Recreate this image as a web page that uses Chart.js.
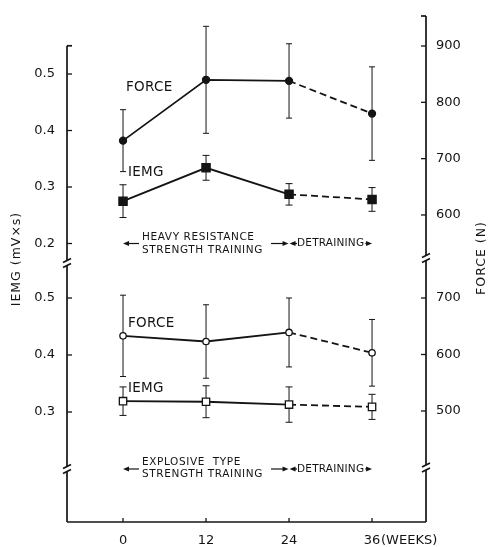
<!DOCTYPE html>
<html>
<head>
<meta charset="utf-8">
<title>IEMG and force during training and detraining</title>
<script src="https://cdn.jsdelivr.net/npm/chart.js@4.4.1/dist/chart.umd.min.js"></script>
<style>
  html, body { margin: 0; padding: 0; background: #fff; }
  canvas { display: block; }
</style>
</head>
<body>
<canvas id="chart" width="488" height="547"></canvas>
<script>
const weeks = [0, 12, 24, 36];

// heavy resistance strength training (upper panel)
const heavyForce = [732, 840, 838, 780];
const heavyForceErr = [55, 95, 66, 83];
const heavyIemg = [0.275, 0.334, 0.287, 0.278];
const heavyIemgErr = [0.029, 0.022, 0.019, 0.021];

// explosive type strength training (lower panel)
const explForce = [633, 623, 639, 603];
const explForceErr = [72, 65, 61, 59];
const explIemg = [0.319, 0.318, 0.313, 0.309];
const explIemgErr = [0.025, 0.028, 0.031, 0.022];

const iemgTicksTop = [0.2, 0.3, 0.4, 0.5];
const iemgTicksBot = [0.3, 0.4, 0.5];
const forceTicksTop = [600, 700, 800, 900];
const forceTicksBot = [500, 600, 700];

const INK = "#141414";
const FONT = "'DejaVu Sans', sans-serif";

const toPoints = vals => weeks.map((w, i) => ({ x: w, y: vals[i] }));

// training part solid, detraining part dashed
const dashAfterTraining = { borderDash: ctx => (ctx.p0DataIndex >= 2 ? [7, 4] : undefined) };

function series(vals, errs, axis, style, filled, radius, capHalf) {
  return {
    data: toPoints(vals),
    errors: errs,
    capHalf,
    yAxisID: axis,
    borderColor: INK,
    borderWidth: 1.8,
    pointStyle: style,
    pointRadius: radius,
    pointBorderWidth: 1.3,
    pointBackgroundColor: filled ? INK : "#fff",
    pointBorderColor: INK,
    segment: dashAfterTraining,
    tension: 0
  };
}

function yScale(stack, position, min, max, ticks, stackWeight, weight, width) {
  return {
    type: "linear",
    position,
    stack,
    stackWeight,
    weight,
    min,
    max,
    grid: { display: false, drawTicks: false },
    border: { display: false },
    ticks: { color: INK, padding: position === "left" ? 12 : 10, font: { family: FONT, size: 13 } },
    afterBuildTicks: s => { s.ticks = ticks.map(v => ({ value: v })); },
    afterFit: s => {
      s.width = width;
      s.paddingTop = 0; // keep the plot area right up to the top padding
      s.paddingBottom = 0;
    }
  };
}

function line(ctx, x1, y1, x2, y2) {
  ctx.beginPath();
  ctx.moveTo(x1, y1);
  ctx.lineTo(x2, y2);
  ctx.stroke();
}

function head(ctx, tipX, y, dir) {
  ctx.beginPath();
  ctx.moveTo(tipX, y);
  ctx.lineTo(tipX - dir * 6, y - 2.5);
  ctx.lineTo(tipX - dir * 6, y + 2.5);
  ctx.closePath();
  ctx.fill();
}

// vertical axis with "//" breaks
function brokenAxis(ctx, X, ys) {
  const gap = 2.5;
  for (let i = 0; i < ys.length - 1; i++) {
    const y1 = ys[i] + (i > 0 ? gap : 0);
    const y2 = ys[i + 1] - (i + 1 < ys.length - 1 ? gap : 0);
    line(ctx, X, y1, X, y2);
  }
  for (let i = 1; i < ys.length - 1; i++) {
    const yb = ys[i];
    line(ctx, X - 4, yb - 0.5, X + 4, yb - 4.5);
    line(ctx, X - 4, yb + 4.5, X + 4, yb + 0.5);
  }
}

const frame = {
  id: "frame",
  beforeDatasetsDraw(chart) {
    const { ctx, chartArea: a, scales: s } = chart;
    ctx.save();
    ctx.strokeStyle = INK;
    ctx.lineWidth = 1.7;

    const lTop = s.iemgTop.getPixelForValue(0.55);
    brokenAxis(ctx, a.left, [lTop, s.iemgTop.bottom, s.iemgBot.getPixelForValue(0.2), a.bottom]);
    brokenAxis(ctx, a.right, [a.top, s.forceTop.bottom, s.forceBot.getPixelForValue(400), a.bottom]);
    line(ctx, a.left, a.bottom, a.right, a.bottom);

    // caps and inward ticks
    line(ctx, a.left, lTop, a.left + 5, lTop);
    line(ctx, a.right - 5, a.top, a.right, a.top);
    ctx.lineWidth = 1.3;
    for (const id of ["iemgTop", "iemgBot"]) {
      s[id].ticks.forEach(t => {
        const y = s[id].getPixelForValue(t.value);
        line(ctx, a.left, y, a.left + 5, y);
      });
    }
    for (const id of ["forceTop", "forceBot"]) {
      s[id].ticks.forEach(t => {
        const y = s[id].getPixelForValue(t.value);
        line(ctx, a.right - 5, y, a.right, y);
      });
    }
    s.x.ticks.forEach(t => {
      const x = s.x.getPixelForValue(t.value);
      line(ctx, x, a.bottom, x, a.bottom - 4);
    });
    ctx.restore();
  }
};

const errorBars = {
  id: "errorBars",
  beforeDatasetsDraw(chart) {
    const { ctx } = chart;
    ctx.save();
    ctx.strokeStyle = INK;
    ctx.lineWidth = 1;
    chart.data.datasets.forEach((ds, i) => {
      const ys = chart.scales[ds.yAxisID];
      chart.getDatasetMeta(i).data.forEach((pt, j) => {
        const v = ds.data[j].y;
        const e = ds.errors[j];
        const top = ys.getPixelForValue(v + e);
        const bot = ys.getPixelForValue(v - e);
        line(ctx, pt.x, top, pt.x, bot);
        line(ctx, pt.x - ds.capHalf, top, pt.x + ds.capHalf, top);
        line(ctx, pt.x - ds.capHalf, bot, pt.x + ds.capHalf, bot);
      });
    });
    ctx.restore();
  }
};

// text placed in week / IEMG units of each panel
const panels = [
  {
    scale: "iemgTop",
    force: [0.43, 0.477],
    iemg: [0.72, 0.325],
    lines: [["HEAVY RESISTANCE", 0.2115], ["STRENGTH TRAINING", 0.188]],
    arrow: 0.2
  },
  {
    scale: "iemgBot",
    force: [0.72, 0.456],
    iemg: [0.72, 0.342],
    lines: [["EXPLOSIVE  TYPE", 0.212], ["STRENGTH TRAINING", 0.191]],
    arrow: 0.2
  }
];

const labels = {
  id: "labels",
  afterDraw(chart) {
    const { ctx, chartArea: a, scales: s } = chart;
    const x = s.x;
    const x0 = x.getPixelForValue(weeks[0]);
    const x24 = x.getPixelForValue(weeks[2]);
    const x36 = x.getPixelForValue(weeks[3]);
    ctx.save();
    ctx.fillStyle = INK;
    ctx.strokeStyle = INK;
    ctx.textBaseline = "middle";
    ctx.textAlign = "left";

    panels.forEach(p => {
      const ys = s[p.scale];
      ctx.font = "13.5px " + FONT;
      ctx.letterSpacing = "0.3px";
      ctx.fillText("FORCE", x.getPixelForValue(p.force[0]), ys.getPixelForValue(p.force[1]));
      ctx.fillText("IEMG", x.getPixelForValue(p.iemg[0]), ys.getPixelForValue(p.iemg[1]));

      ctx.font = "10.5px " + FONT;
      ctx.letterSpacing = "0.6px";
      const textX = x0 + 19;
      let wMax = 0;
      p.lines.forEach(([t, v]) => {
        ctx.fillText(t, textX, ys.getPixelForValue(v));
        wMax = Math.max(wMax, ctx.measureText(t).width);
      });

      const ya = ys.getPixelForValue(p.arrow);
      ctx.lineWidth = 1.2;
      line(ctx, x0 + 3, ya, textX - 3, ya);
      head(ctx, x0, ya, -1);
      line(ctx, textX + wMax + 8, ya, x24 - 5, ya);
      head(ctx, x24 - 0.5, ya, 1);
      head(ctx, x24 + 0.5, ya, -1);
      line(ctx, x24 + 5, ya, x24 + 8, ya);
      ctx.letterSpacing = "0.2px";
      const dw = ctx.measureText("DETRAINING").width;
      ctx.fillText("DETRAINING", x24 + 8, ya);
      line(ctx, x24 + 9 + dw, ya, x36 - 4, ya);
      head(ctx, x36, ya, 1);
    });

    // axis titles
    ctx.letterSpacing = "1px";
    ctx.font = "12.5px " + FONT;
    ctx.textAlign = "center";
    ctx.save();
    ctx.translate(17, 259);
    ctx.rotate(-Math.PI / 2);
    ctx.fillText("IEMG (mV×s)", 0, 0);
    ctx.restore();
    ctx.save();
    ctx.translate(482, 258);
    ctx.rotate(-Math.PI / 2);
    ctx.fillText("FORCE (N)", 0, 0);
    ctx.restore();

    ctx.letterSpacing = "0px";
    ctx.font = "13px " + FONT;
    ctx.textAlign = "left";
    ctx.fillText("(WEEKS)", x36 + 9, a.bottom + 19);
    ctx.restore();
  }
};

new Chart(document.getElementById("chart"), {
  type: "line",
  data: {
    datasets: [
      series(heavyForce, heavyForceErr, "forceTop", "circle", true, 3.5, 3),
      series(heavyIemg, heavyIemgErr, "iemgTop", "rect", true, 5.8, 3.5),
      series(explForce, explForceErr, "forceBot", "circle", false, 3.2, 3),
      series(explIemg, explIemgErr, "iemgBot", "rect", false, 5.2, 3.5)
    ]
  },
  options: {
    responsive: false,
    devicePixelRatio: 1,
    animation: false,
    layout: { padding: { top: 16, left: 0, right: 0, bottom: 0 } },
    plugins: { legend: { display: false }, tooltip: { enabled: false } },
    scales: {
      x: {
        type: "linear",
        position: "bottom",
        min: -8.1,
        max: 43.8,
        grid: { display: false, drawTicks: false },
        border: { display: false },
        ticks: { color: INK, padding: 11, font: { family: FONT, size: 13 } },
        afterBuildTicks: s => { s.ticks = weeks.map(v => ({ value: v })); },
        afterFit: s => { s.height = 25; }
      },
      iemgTop: yScale("left", "left", 0.1655, 0.6027, iemgTicksTop, 247, 1, 67),
      iemgBot: yScale("left", "left", 0.107, 0.5614, iemgTicksBot, 259, 0, 67),
      forceTop: yScale("right", "right", 523.6, 953.3, forceTicksTop, 242, 0, 62),
      forceBot: yScale("right", "right", 303.5, 770.8, forceTicksBot, 264, 1, 62)
    }
  },
  plugins: [frame, errorBars, labels]
});
</script>
</body>
</html>
